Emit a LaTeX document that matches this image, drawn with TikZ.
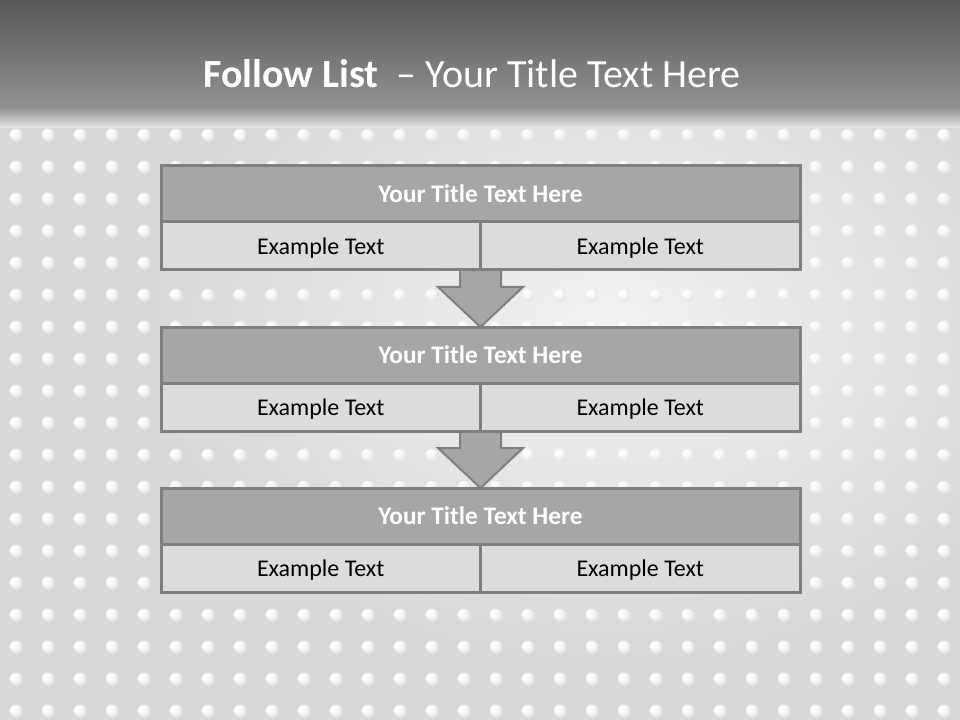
\documentclass[tikz,border=0pt]{standalone}
\usepackage{fontspec}
\setmainfont{Carlito}
\usetikzlibrary{positioning}
\usetikzlibrary{calc}

\definecolor{rim}{HTML}{7F7F7F}
\definecolor{headfill}{HTML}{A6A6A6}
\definecolor{cellfill}{HTML}{DCDCDC}
\definecolor{bgbase}{HTML}{D8D8D8}
\definecolor{shine}{HTML}{F2F2F2}
\definecolor{bartop}{HTML}{585858}
\definecolor{barbot}{HTML}{929292}
\definecolor{bgtop}{HTML}{E6E6E6}

\pgfdeclareradialshading{dotball}{\pgfpoint{-12bp}{12bp}}{%
  color(0bp)=(white); color(12bp)=(black!2); color(32bp)=(black!12); color(50bp)=(black!22)}

\tikzset{
  headrow/.style={draw=rim, line width=2.25pt, fill=headfill, outer sep=0pt,
    minimum width=479.25pt, minimum height=42pt, inner sep=0pt,
    text=white, font=\fontsize{19}{23}\selectfont\bfseries},
  itemcell/.style={draw=rim, line width=2.25pt, fill=cellfill, outer sep=0pt,
    minimum width=239.625pt, minimum height=36pt, inner sep=0pt, text depth=0pt,
    font=\fontsize{18}{22}\selectfont},
  flowarrow/.style={draw=rim, line width=1.5pt, fill=headfill, line join=miter},
}

\begin{document}
\begin{tikzpicture}[x=0.75pt, y=-0.75pt]
  \useasboundingbox (0,0) rectangle (960,720);

  % background and title bar
  \fill[bgbase] (0,0) rectangle (960,720);
  \shade[inner color=shine, outer color=bgbase] (610,330) ellipse (460 and 330);
  \shade[top color=bartop, bottom color=barbot] (0,0) rectangle (960,108);
  \shade[top color=barbot, bottom color=bgtop] (0,108) rectangle (960,128);
  \node[text=white, font=\fontsize{30}{36}\selectfont, anchor=base] (heading) at (472,88)
    {\textbf{Follow List}\ \ -- Your Title Text Here};

  % dots
  \foreach \i in {0,...,29}
    \foreach \j in {0,...,18}
      \shade[shading=dotball] (16+32*\i,135+32*\j) circle (6.5);

  % arrows
  \coordinate (base1) at (481,270);
  \coordinate (base2) at (481,431);
  \draw[flowarrow] ($(base1)+(-21,0)$) -- ++(0,17) -- ++(-22,0) -- (480.5,327)
    -- ++(42.5,-40) -- ++(-22,0) -- ++(0,-17) -- cycle;
  \draw[flowarrow] ($(base2)+(-21,0)$) -- ++(0,17) -- ++(-22,0) -- (480.5,488)
    -- ++(42.5,-40) -- ++(-22,0) -- ++(0,-17) -- cycle;

  % first list
  \node[headrow] (t1) at (480.5,194) {Your Title Text Here};
  \node[itemcell, anchor=north west] (a1) at (t1.south west) {Example Text};
  \node[itemcell, anchor=north east] (b1) at (t1.south east) {Example Text};

  % second list
  \node[headrow] (t2) at (480.5,355) {Your Title Text Here};
  \node[itemcell, anchor=north west] (a2) at (t2.south west) {Example Text};
  \node[itemcell, anchor=north east] (b2) at (t2.south east) {Example Text};

  % third list
  \node[headrow] (t3) at (480.5,516) {Your Title Text Here};
  \node[itemcell, anchor=north west] (a3) at (t3.south west) {Example Text};
  \node[itemcell, anchor=north east] (b3) at (t3.south east) {Example Text};
\end{tikzpicture}
\end{document}
